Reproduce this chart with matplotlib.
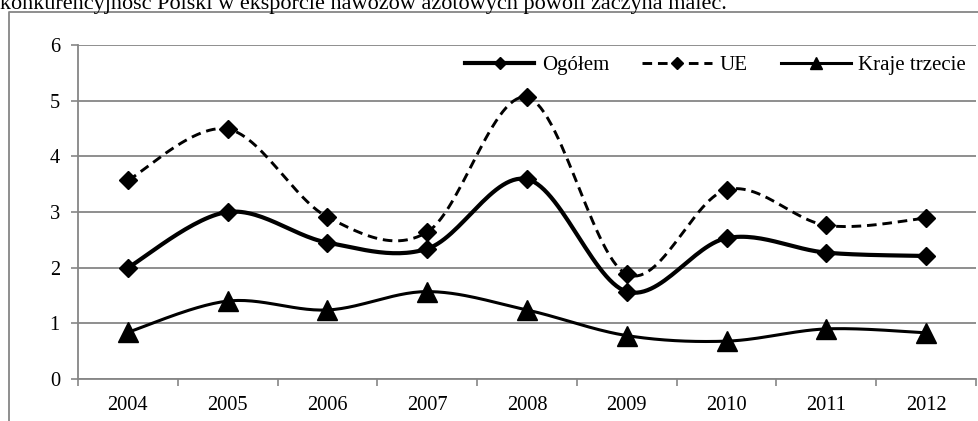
import numpy as np
import matplotlib
matplotlib.use("Agg")
import matplotlib.pyplot as plt
from matplotlib.lines import Line2D

plt.rcParams['font.family'] = ['Liberation Serif', 'DejaVu Serif']

years = ['2004', '2005', '2006', '2007', '2008', '2009', '2010', '2011', '2012']
ogolem = [2.0, 3.0, 2.45, 2.34, 3.59, 1.57, 2.53, 2.27, 2.21]
ue = [3.57, 4.49, 2.91, 2.64, 5.06, 1.88, 3.40, 2.76, 2.89]
kraje = [0.84, 1.40, 1.24, 1.57, 1.24, 0.78, 0.68, 0.90, 0.83]
labels = ['Ogółem', 'UE', 'Kraje trzecie']
header = 'konkurencyjność Polski w eksporcie nawozów azotowych powoli zaczyna maleć.'


def smooth(xs, ys, n=30):
    P = np.column_stack([xs, ys]).astype(float)
    m = len(P)
    out = []
    for i in range(m - 1):
        p0 = P[max(i - 1, 0)]
        p1 = P[i]
        p2 = P[i + 1]
        p3 = P[min(i + 2, m - 1)]
        c1 = p1 + (p2 - p0) / 6.0
        c2 = p2 - (p3 - p1) / 6.0
        t = np.linspace(0, 1, n)[:, None]
        seg = ((1 - t) ** 3) * p1 + 3 * ((1 - t) ** 2) * t * c1 + 3 * (1 - t) * t ** 2 * c2 + t ** 3 * p2
        out.append(seg if i == 0 else seg[1:])
    c = np.vstack(out)
    return c[:, 0], c[:, 1]


W, H = 979, 421
fig = plt.figure(figsize=(W / 100, H / 100), dpi=100)
ax = fig.add_axes([78 / W, 1 - 379 / H, (976 - 78) / W, (379 - 45) / H])

x = np.arange(len(years))
grey = '#868686'
dash = (0, (3.3, 2.0))

# outer frame (partially visible)
fig.add_artist(Line2D([9 / W, 9 / W, 1.0], [0.0, 1 - 12 / H, 1 - 12 / H],
                      transform=fig.transFigure, color=grey, lw=1.3))
fig.text(0.0, 1 - 9 / H, header, fontsize=16, va='baseline', ha='left')

# series
sx, sy = smooth(x, ogolem)
ax.plot(sx, sy, color='black', lw=3.0, zorder=4, solid_capstyle='round')
ax.plot(x, ogolem, ls='none', marker='D', ms=9.5, color='black', zorder=5)

sx, sy = smooth(x, ue)
ax.plot(sx, sy, color='black', lw=2.1, ls=dash, zorder=4)
ax.plot(x, ue, ls='none', marker='D', ms=9.5, color='black', zorder=5)

sx, sy = smooth(x, kraje)
ax.plot(sx, sy, color='black', lw=2.2, zorder=4)
ax.plot(x, kraje, ls='none', marker='^', ms=14, color='black', zorder=5)

ax.set_xlim(-0.5, len(years) - 0.5)
ax.set_ylim(0, 6)
ax.set_yticks(range(0, 7))
ax.set_xticks(x)
ax.set_xticklabels(years)
ax.set_xticks(np.arange(-0.5, len(years), 1.0), minor=True)
ax.tick_params(axis='x', which='major', length=0, pad=12, labelsize=14.7)
ax.tick_params(axis='x', which='minor', length=5, width=1.2, color=grey, direction='out')
ax.tick_params(axis='y', length=5, width=1.2, color=grey, direction='out', labelsize=14.7, pad=8)
ax.yaxis.grid(True, color=grey, lw=1.3)
ax.set_axisbelow(True)
for s in ['top', 'right']:
    ax.spines[s].set_visible(False)
for s in ['left', 'bottom']:
    ax.spines[s].set_color(grey)
    ax.spines[s].set_linewidth(1.3)

handles = [
    Line2D([], [], color='black', lw=3.0, marker='D', ms=6.5),
    Line2D([], [], color='black', lw=2.1, ls=dash, marker='D', ms=6.5),
    Line2D([], [], color='black', lw=2.2, marker='^', ms=9),
]
ax.legend(handles, labels, loc='upper right', bbox_to_anchor=(1.0, 1.0), ncol=3, frameon=False,
          fontsize=15, handlelength=3.35, handletextpad=0.35, columnspacing=1.6,
          borderaxespad=0.1)

fig.savefig('out.png', dpi=100)
